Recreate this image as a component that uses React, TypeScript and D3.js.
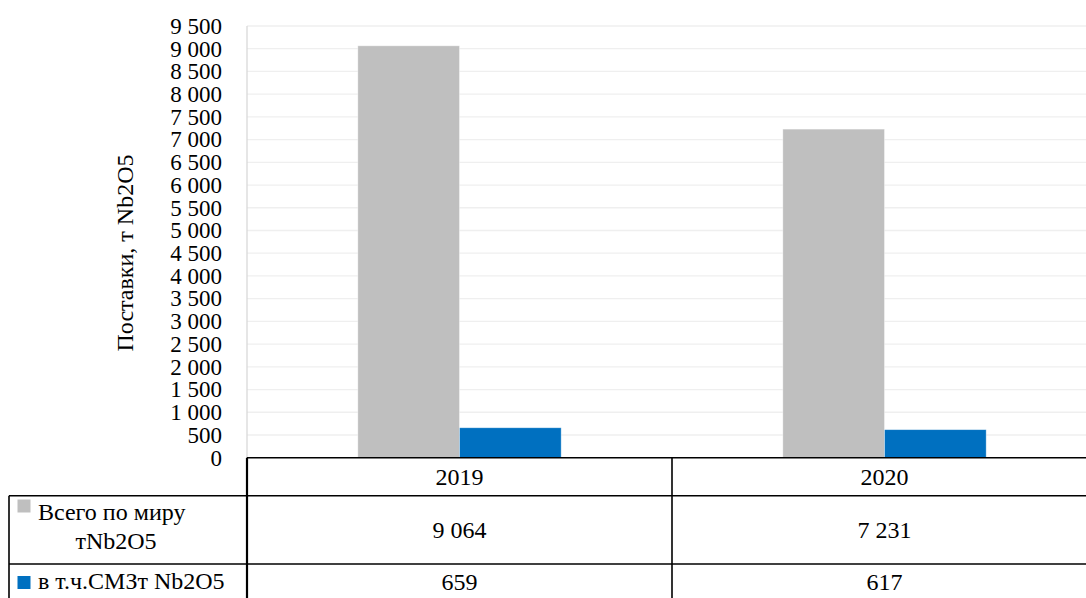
import * as d3 from 'd3';

const years = ['2019', '2020'];
const seriesNames = ['Всего по миру тNb2O5', 'в т.ч.СМЗт Nb2O5'];
const totalWorld = [9064, 7231];
const smzShare = [659, 617];
const seriesColors = ['#bfbfbf', '#0070c0'];
const yTicks = d3.range(0, 9501, 500);

const fmt = (v: number) => d3.format(',')(v).replace(/,/g, ' ');

const width = 1086;
const height = 598;
const plotLeft = 247;
const plotRight = 1097;
const plotTop = 26;
const plotBottom = 457.7;
const row1Bottom = 495.7;
const row2Bottom = 564;
const row3Bottom = 600;
const legendLeft = 9;
const fontFamily = "'Liberation Serif', 'Times New Roman', serif";
const tickTxt = { fontFamily, fontSize: '23px' };
const txt = { fontFamily, fontSize: '24px' };

const App = () => {
  const x0 = d3.scaleBand().domain(years).range([plotLeft, plotRight]).paddingInner(0).paddingOuter(0);
  const x1 = d3.scaleBand().domain(seriesNames).range([0, x0.bandwidth()]).paddingInner(0).paddingOuter(1.09);
  const y = d3.scaleLinear().domain([0, 9500]).range([plotBottom, plotTop]);
  const values = [totalWorld, smzShare];

  return (
    <svg
      width={width}
      height={height}
      style={{ position: 'absolute', left: 0, top: 0, fontFamily }}
    >
      <rect x={0} y={0} width={width} height={height} fill="#fff" />
      {/* gridlines */}
      {yTicks.filter(t => t > 0).map(t => (
        <line key={t} x1={plotLeft} x2={plotRight} y1={y(t)} y2={y(t)} stroke="#efefef" strokeWidth={1.3} />
      ))}
      <line x1={plotLeft} x2={plotLeft} y1={plotTop} y2={plotBottom} stroke="#d9d9d9" strokeWidth={1.3} />

      {/* tick labels */}
      {yTicks.map(t => (
        <text key={t} x={222} y={y(t)} dy="0.34em" textAnchor="end" style={tickTxt}>{fmt(t)}</text>
      ))}

      <text
        transform={`translate(133,253) rotate(-90)`}
        textAnchor="middle"
        style={txt}
      >
        Поставки, т Nb2O5
      </text>

      {/* bars */}
      {values.map((vals, si) =>
        vals.map((v, i) => (
          <rect
            key={`${si}-${i}`}
            x={(x0(years[i]) ?? 0) + (x1(seriesNames[si]) ?? 0)}
            width={x1.bandwidth()}
            y={y(v)}
            height={plotBottom - y(v)}
            fill={seriesColors[si]}
            stroke="#ffffff"
            strokeOpacity={0.5}
            strokeWidth={0.75}
          />
        ))
      )}

      {/* data table */}
      <g stroke="#000" strokeWidth={1.6} fill="none">
        <line x1={plotLeft} x2={plotRight} y1={plotBottom} y2={plotBottom} />
        <line x1={legendLeft} x2={plotRight} y1={row1Bottom} y2={row1Bottom} />
        <line x1={legendLeft} x2={plotRight} y1={row2Bottom} y2={row2Bottom} />
        <line x1={legendLeft} x2={legendLeft} y1={row1Bottom} y2={row3Bottom} />
        <line x1={plotLeft} x2={plotLeft} y1={plotBottom} y2={row3Bottom} strokeWidth={2.2} />
        {years.map(yr => {
          const xe = (x0(yr) ?? 0) + x0.bandwidth();
          return <line key={yr} x1={xe} x2={xe} y1={plotBottom} y2={row3Bottom} />;
        })}
      </g>

      {years.map((yr, i) => {
        const xc = (x0(yr) ?? 0) + x0.bandwidth() / 2;
        return (
          <g key={yr}>
            <text x={xc} y={(plotBottom + row1Bottom) / 2} dy="0.34em" textAnchor="middle" style={txt}>{yr}</text>
            <text x={xc} y={(row1Bottom + row2Bottom) / 2} dy="0.34em" textAnchor="middle" style={txt}>{fmt(totalWorld[i])}</text>
            <text x={xc} y={581.5} dy="0.34em" textAnchor="middle" style={txt}>{fmt(smzShare[i])}</text>
          </g>
        );
      })}

      {/* legend keys */}
      <rect x={17.5} y={499.5} width={13} height={13} fill={seriesColors[0]} />
      <rect x={17.5} y={576} width={13} height={13} fill={seriesColors[1]} />
      <text x={38} y={520} style={txt}>Всего по миру</text>
      <text x={116} y={549} textAnchor="middle" style={txt}>тNb2O5</text>
      <text x={38} y={589} style={txt}>{seriesNames[1]}</text>
    </svg>
  );
};

export default App;
